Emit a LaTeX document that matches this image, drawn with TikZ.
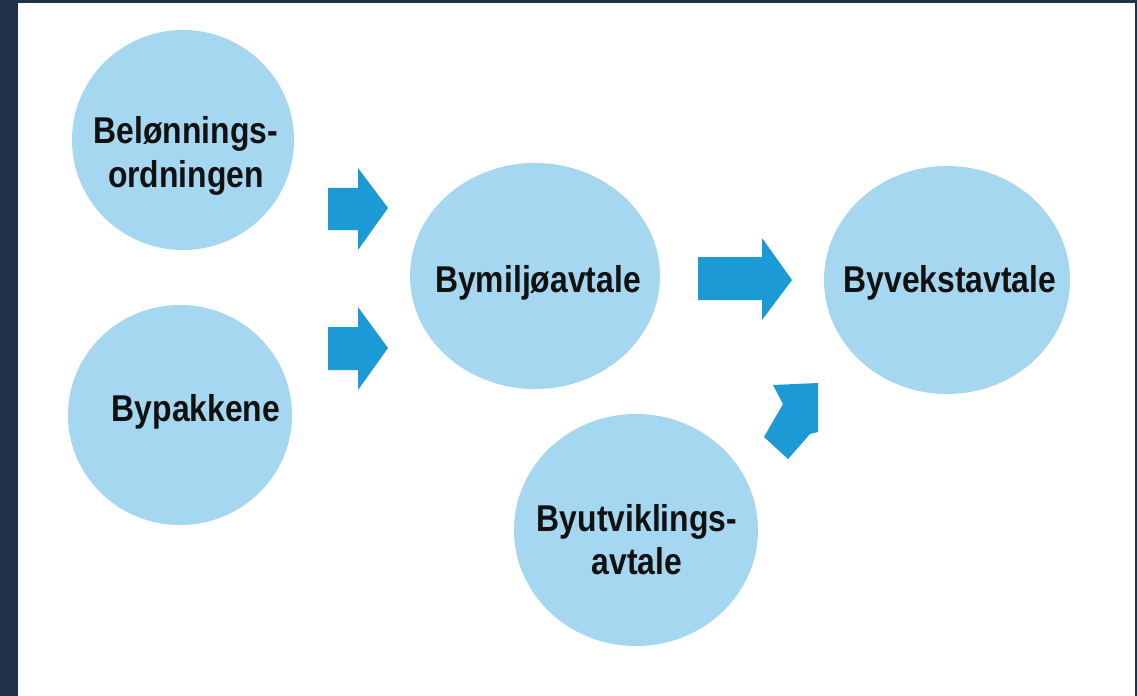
\documentclass[tikz,border=0pt]{standalone}
\usepackage{fontspec}
\setmainfont{Liberation Sans}
\usetikzlibrary{shapes.geometric}
\definecolor{frame}{HTML}{22324A}
\definecolor{bubble}{HTML}{A6D7F0}
\definecolor{arrowblue}{HTML}{1B9AD6}
\definecolor{ink}{HTML}{111111}
\newcommand{\tallines}[1]{\scalebox{1}[1.17]{\begin{tabular}[t]{@{}c@{}}#1\end{tabular}}}
\begin{document}
\begin{tikzpicture}[x=1bp,y=-1bp,
  bubblebox/.style={ellipse, fill=bubble, inner sep=0pt, draw=none},
  lbl/.style={anchor=base, inner sep=0pt, text=ink, font=\bfseries\fontsize{32}{37.6}\selectfont},
  blockarrow/.style={fill=arrowblue, draw=none}]
\useasboundingbox (0,0) rectangle (1137,696);
\fill[frame] (0,0) rectangle (1137,696);
\fill[white] (18,3) rectangle (1135,696);

% bubbles
\node[bubblebox, minimum width=222bp, minimum height=220bp] (e1) at (183,140) {};
\node[bubblebox, minimum width=224bp, minimum height=220bp] (e2) at (180,415) {};
\node[bubblebox, minimum width=250bp, minimum height=226bp] (e3) at (535,276) {};
\node[bubblebox, minimum width=246bp, minimum height=228bp] (e4) at (947,280) {};
\node[bubblebox, minimum width=244bp, minimum height=232bp] (e5) at (636,530) {};

% labels
\node[lbl] (t1) at (186,144) {\tallines{Belønnings-\\ordningen}};
\node[lbl] (t2) at (196,421) {\tallines{Bypakkene}};
\node[lbl] (t3) at (538,292) {\tallines{Bymiljøavtale}};
\node[lbl] (t4) at (950,292) {\tallines{Byvekstavtale}};
\node[lbl] (t5) at (637,531) {\tallines{Byutviklings-\\avtale}};

% block arrows
\fill[blockarrow] (328,188) -- (358,188) -- (358,168) -- (388,208) -- (358,250) -- (358,230) -- (328,230) -- cycle;
\fill[blockarrow] (328,327) -- (358,327) -- (358,307) -- (388,348) -- (358,390) -- (358,370) -- (328,370) -- cycle;
\fill[blockarrow] (698,257) -- (762,257) -- (762,238) -- (792,280) -- (762,320) -- (762,300) -- (698,300) -- cycle;
\fill[blockarrow] (773,385) -- (818,383) -- (818,432) -- (810,434) -- (788,459) -- (764,437) -- (783,404) -- cycle;
\end{tikzpicture}
\end{document}
